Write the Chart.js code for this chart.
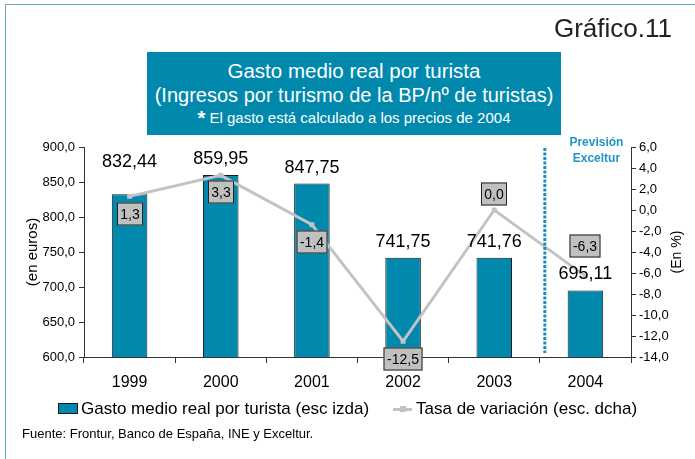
<!DOCTYPE html>
<html><head><meta charset="utf-8">
<script src="https://cdn.jsdelivr.net/npm/chart.js@4.4.1/dist/chart.umd.min.js"></script>
<style>
html,body{margin:0;padding:0;background:#fff;}
#wrap{position:relative;width:695px;height:459px;overflow:hidden;font-family:"Liberation Sans",Arial,sans-serif;}
#frame{position:absolute;left:5px;top:4px;width:720px;height:480px;border-top:1.5px solid #6aa6d3;border-left:1.5px solid #6aa6d3;}
#num{position:absolute;right:23px;top:12px;font-size:26px;line-height:32px;color:#222;}
#tbox{position:absolute;left:147px;top:52px;width:414px;height:83px;background:#0088ad;color:#fff;text-align:center;}
#tbox div{position:absolute;left:0;width:100%;white-space:nowrap;}
#t1{top:7px;font-size:20.5px;line-height:24px;}
#t2{top:31px;font-size:20px;line-height:24px;}
#t3{top:57px;font-size:15px;line-height:18px;}
#t3 b{font-size:20px;vertical-align:-2px;}
canvas{position:absolute;left:0;top:0;}
#legend{position:absolute;left:0;top:0;width:695px;height:459px;pointer-events:none;}
.lg-txt{position:absolute;font-size:17px;line-height:20px;top:399px;color:#000;white-space:nowrap;}
#foot{position:absolute;left:22px;top:426px;font-size:13px;line-height:16px;color:#000;}
</style></head>
<body><div id="wrap">
<div id="frame"></div>
<canvas id="c" width="695" height="459"></canvas>
<div id="num">Gráfico.11</div>
<div id="tbox">
<div id="t1">Gasto medio real por turista</div>
<div id="t2">(Ingresos por turismo de la BP/nº de turistas)</div>
<div id="t3"><b>*</b> El gasto está calculado a los precios de 2004</div>
</div>
<div id="legend"></div>
<div id="foot">Fuente: Frontur, Banco de España, INE y Exceltur.</div>
</div>
<script>
const categories = ['1999', '2000', '2001', '2002', '2003', '2004'];
const gastoMedio = [832.44, 859.95, 847.75, 741.75, 741.76, 695.11];
const tasaVariacion = [1.3, 3.3, -1.4, -12.5, 0.0, -6.3];
const leftTickValues = [600, 650, 700, 750, 800, 850, 900];
const rightTickValues = [-14, -12, -10, -8, -6, -4, -2, 0, 2, 4, 6];
const seriesNames = ['Gasto medio real por turista (esc izda)', 'Tasa de variación (esc. dcha)'];

const TEAL = '#0088ad';
const GREY = '#c3c3c3';
const FONT = '"Liberation Sans", Arial, sans-serif';
Chart.defaults.font.family = FONT;
Chart.defaults.color = '#000';

const fmt = (v, d) => v.toFixed(d).replace('.', ',');

const overlay = {
  id: 'overlay',
  afterDatasetsDraw(chart, args, opts) {
    const ctx = chart.ctx;
    const xs = chart.scales.x;
    const area = chart.chartArea;
    ctx.save();
    // forecast divider
    const xd = (xs.getPixelForValue(4) + xs.getPixelForValue(5)) / 2 + 5;
    ctx.strokeStyle = '#1f8fb8';
    ctx.lineWidth = 3;
    ctx.setLineDash([3, 1.5]);
    ctx.beginPath();
    ctx.moveTo(xd, area.top + 1);
    ctx.lineTo(xd, area.bottom - 4);
    ctx.stroke();
    ctx.setLineDash([]);
    ctx.fillStyle = '#2196c4';
    ctx.font = 'bold 12px ' + FONT;
    ctx.textAlign = 'center';
    ctx.textBaseline = 'middle';
    const xp = xs.getPixelForValue(5) + 11;
    ctx.fillText('Previsión', xp, area.top - 4);
    ctx.fillText('Exceltur', xp, area.top + 12);

    // bar value labels
    ctx.fillStyle = '#000';
    ctx.font = '18px ' + FONT;
    const bm = chart.getDatasetMeta(1);
    bm.data.forEach((el, i) => {
      const dy = opts.barLabelDy[i];
      ctx.fillText(fmt(chart.data.datasets[1].data[i], 2), el.x, el.y - dy);
    });

    // line value labels in boxes
    ctx.font = '14px ' + FONT;
    const lm = chart.getDatasetMeta(0);
    lm.data.forEach((el, i) => {
      const txt = fmt(chart.data.datasets[0].data[i], 1);
      const w = Math.round(ctx.measureText(txt).width + 7);
      const h = 23;
      const cx = Math.round(el.x), cy = Math.round(el.y + opts.lineLabelDy[i]);
      ctx.fillStyle = '#c0c0c0';
      ctx.fillRect(cx - w / 2, cy - h / 2, w, h);
      ctx.strokeStyle = '#222';
      ctx.lineWidth = 1;
      ctx.strokeRect(cx - w / 2 + 0.5, cy - h / 2 + 0.5, w - 1, h - 1);
      ctx.fillStyle = '#000';
      ctx.fillText(txt, cx, cy + 1);
    });

    // axis titles (both read bottom-to-top)
    const midY = (area.top + area.bottom) / 2;
    ctx.font = '15px ' + FONT;
    ctx.save();
    ctx.translate(33, midY);
    ctx.rotate(-Math.PI / 2);
    ctx.fillText('(en euros)', 0, 0);
    ctx.restore();
    ctx.font = '14px ' + FONT;
    ctx.save();
    ctx.translate(chart.scales.y1.right - 18, midY);
    ctx.rotate(-Math.PI / 2);
    ctx.fillText('(En %)', 0, 0);
    ctx.restore();
    ctx.restore();
  }
};

const chart = new Chart(document.getElementById('c'), {
  data: {
    labels: categories,
    datasets: [
      {
        type: 'line', label: seriesNames[1], data: tasaVariacion, yAxisID: 'y1', order: 0,
        borderColor: GREY, borderWidth: 3, tension: 0,
        pointStyle: 'rect', pointRadius: 3.5, pointBackgroundColor: GREY, pointBorderColor: GREY, pointBorderWidth: 0
      },
      {
        type: 'bar', label: seriesNames[0], data: gastoMedio, yAxisID: 'y', order: 1,
        backgroundColor: TEAL, borderColor: '#1a1a1a', borderWidth: 1,
        barPercentage: 0.39, categoryPercentage: 1
      }
    ]
  },
  options: {
    responsive: false, animation: false,
    layout: { padding: { top: 147, bottom: 62, left: 0, right: 0 } },
    plugins: {
      legend: { display: false }, tooltip: { enabled: false },
      overlay: { barLabelDy: [32, 16, 16, 16, 16, 16], lineLabelDy: [18, 17, 17, 18, -16, -30] }
    },
    scales: {
      x: {
        offset: true,
        grid: { offset: true, drawOnChartArea: false, drawTicks: true, tickLength: 6, color: '#333' },
        border: { color: '#333', width: 1 },
        ticks: { font: { size: 16 }, color: '#000', padding: 10 },
        afterFit(s) { s.height = 40; }
      },
      y: {
        position: 'left', min: 600, max: 900,
        afterBuildTicks(s) { s.ticks = leftTickValues.map(v => ({ value: v })); },
        ticks: { font: { size: 13 }, color: '#000', padding: 4, callback: v => fmt(v, 1) },
        grid: { drawOnChartArea: false, tickLength: 5, color: '#333' },
        border: { color: '#333', width: 1 },
        afterFit(s) { s.width = 84; }
      },
      y1: {
        position: 'right', min: -14, max: 6,
        afterBuildTicks(s) { s.ticks = rightTickValues.map(v => ({ value: v })); },
        ticks: { font: { size: 13 }, color: '#000', padding: 3, callback: v => fmt(v, 1) },
        grid: { drawOnChartArea: false, tickLength: 5, color: '#333' },
        border: { color: '#333', width: 1 },
        afterFit(s) { s.width = 64; }
      }
    }
  },
  plugins: [overlay]
});

// HTML legend built from the chart's datasets
(function () {
  const lg = document.getElementById('legend');
  const bar = chart.data.datasets[1], line = chart.data.datasets[0];
  lg.innerHTML =
    '<div style="position:absolute;left:58px;top:403px;width:18px;height:9px;background:' + bar.backgroundColor + ';border:1px solid #1a1a1a"></div>' +
    '<div class="lg-txt" style="left:81px">' + bar.label + '</div>' +
    '<div style="position:absolute;left:393px;top:408px;width:19px;height:3px;background:' + line.borderColor + '"></div>' +
    '<div style="position:absolute;left:400px;top:406px;width:6px;height:6px;background:' + line.borderColor + '"></div>' +
    '<div class="lg-txt" style="left:416px">' + line.label + '</div>';
})();
</script>
</body></html>
